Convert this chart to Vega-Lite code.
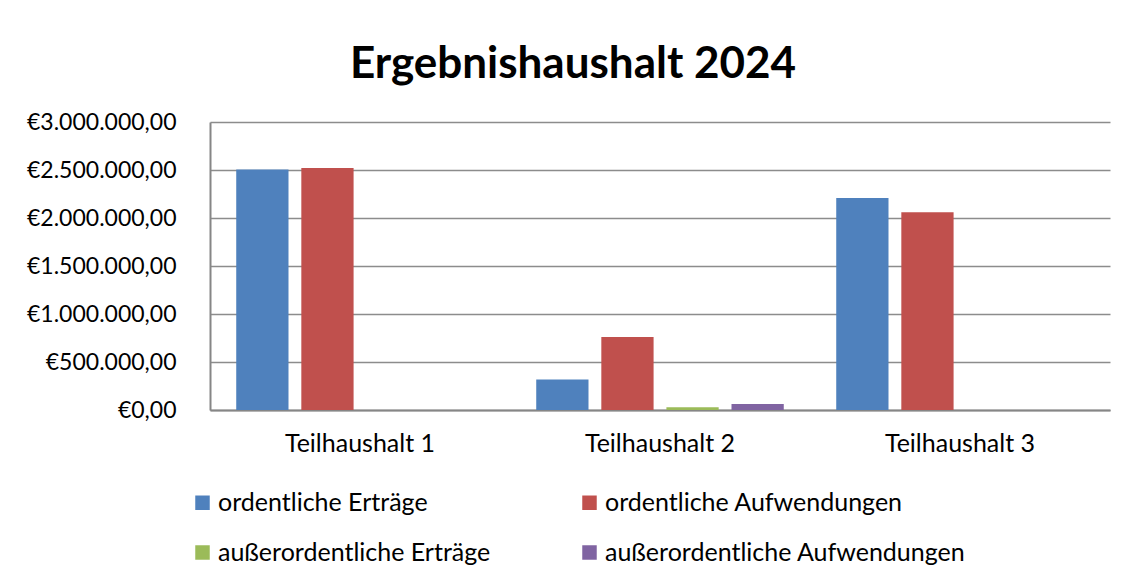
{
  "$schema": "https://vega.github.io/schema/vega-lite/v6.json",
  "autosize": "none",
  "width": 900,
  "height": 288,
  "padding": {"left": 210, "top": 122, "right": 24, "bottom": 168},
  "background": "white",
  "config": {
    "locale": {"number": {"decimal": ",", "thousands": ".", "grouping": [3], "currency": ["€", ""]}},
    "font": "Lato",
    "view": {"stroke": null}
  },
  "title": {
    "text": "Ergebnishaushalt 2024",
    "font": "Lato",
    "fontWeight": "bold",
    "fontSize": 44,
    "color": "black",
    "anchor": "middle",
    "frame": "group",
    "dx": -87,
    "baseline": "alphabetic",
    "offset": -11
  },
  "data": {
    "values": [
      {"teil": "Teilhaushalt 1", "kat": "ordentliche Erträge", "wert": 2505000},
      {"teil": "Teilhaushalt 1", "kat": "ordentliche Aufwendungen", "wert": 2520000},
      {"teil": "Teilhaushalt 1", "kat": "außerordentliche Erträge", "wert": 0},
      {"teil": "Teilhaushalt 1", "kat": "außerordentliche Aufwendungen", "wert": 0},
      {"teil": "Teilhaushalt 2", "kat": "ordentliche Erträge", "wert": 319000},
      {"teil": "Teilhaushalt 2", "kat": "ordentliche Aufwendungen", "wert": 760000},
      {"teil": "Teilhaushalt 2", "kat": "außerordentliche Erträge", "wert": 28000},
      {"teil": "Teilhaushalt 2", "kat": "außerordentliche Aufwendungen", "wert": 62000},
      {"teil": "Teilhaushalt 3", "kat": "ordentliche Erträge", "wert": 2208000},
      {"teil": "Teilhaushalt 3", "kat": "ordentliche Aufwendungen", "wert": 2059000},
      {"teil": "Teilhaushalt 3", "kat": "außerordentliche Erträge", "wert": 0},
      {"teil": "Teilhaushalt 3", "kat": "außerordentliche Aufwendungen", "wert": 0}
    ]
  },
  "mark": {"type": "bar"},
  "encoding": {
    "x": {
      "field": "teil",
      "type": "nominal",
      "scale": {"paddingInner": 0, "paddingOuter": 0},
      "axis": {
        "title": null,
        "labelAngle": 0,
        "labelFont": "Lato",
        "labelFontSize": 25,
        "labelColor": "black",
        "labelPadding": 21,
        "ticks": false,
        "domainColor": "#868686",
        "domainWidth": 2,
        "grid": false
      }
    },
    "xOffset": {
      "field": "kat",
      "type": "nominal",
      "sort": ["ordentliche Erträge", "ordentliche Aufwendungen", "außerordentliche Erträge", "außerordentliche Aufwendungen"],
      "scale": {"paddingInner": 0.197, "paddingOuter": 0.403}
    },
    "y": {
      "field": "wert",
      "type": "quantitative",
      "scale": {"domain": [0, 3000000], "nice": false},
      "axis": {
        "title": null,
        "values": [0, 500000, 1000000, 1500000, 2000000, 2500000, 3000000],
        "format": "$,.2f",
        "labelFont": "Lato",
        "labelFontSize": 23,
        "labelColor": "black",
        "labelPadding": 34,
        "ticks": false,
        "domainColor": "#868686",
        "domainWidth": 2,
        "gridColor": "#8c8c8c",
        "gridWidth": 1.5
      }
    },
    "color": {
      "field": "kat",
      "type": "nominal",
      "sort": ["ordentliche Erträge", "ordentliche Aufwendungen", "außerordentliche Erträge", "außerordentliche Aufwendungen"],
      "scale": {
        "domain": ["ordentliche Erträge", "ordentliche Aufwendungen", "außerordentliche Erträge", "außerordentliche Aufwendungen"],
        "range": ["#4F81BD", "#C0504D", "#9BBB59", "#8064A2"]
      },
      "legend": {
        "title": null,
        "orient": "none",
        "legendX": -20,
        "legendY": 368,
        "direction": "horizontal",
        "columns": 2,
        "columnPadding": 86,
        "rowPadding": 24,
        "padding": 0,
        "symbolType": "square",
        "symbolSize": 210,
        "symbolStrokeWidth": 0,
        "labelFont": "Lato",
        "labelFontSize": 25,
        "labelColor": "black",
        "labelOffset": 3,
        "labelLimit": 500
      }
    }
  }
}
